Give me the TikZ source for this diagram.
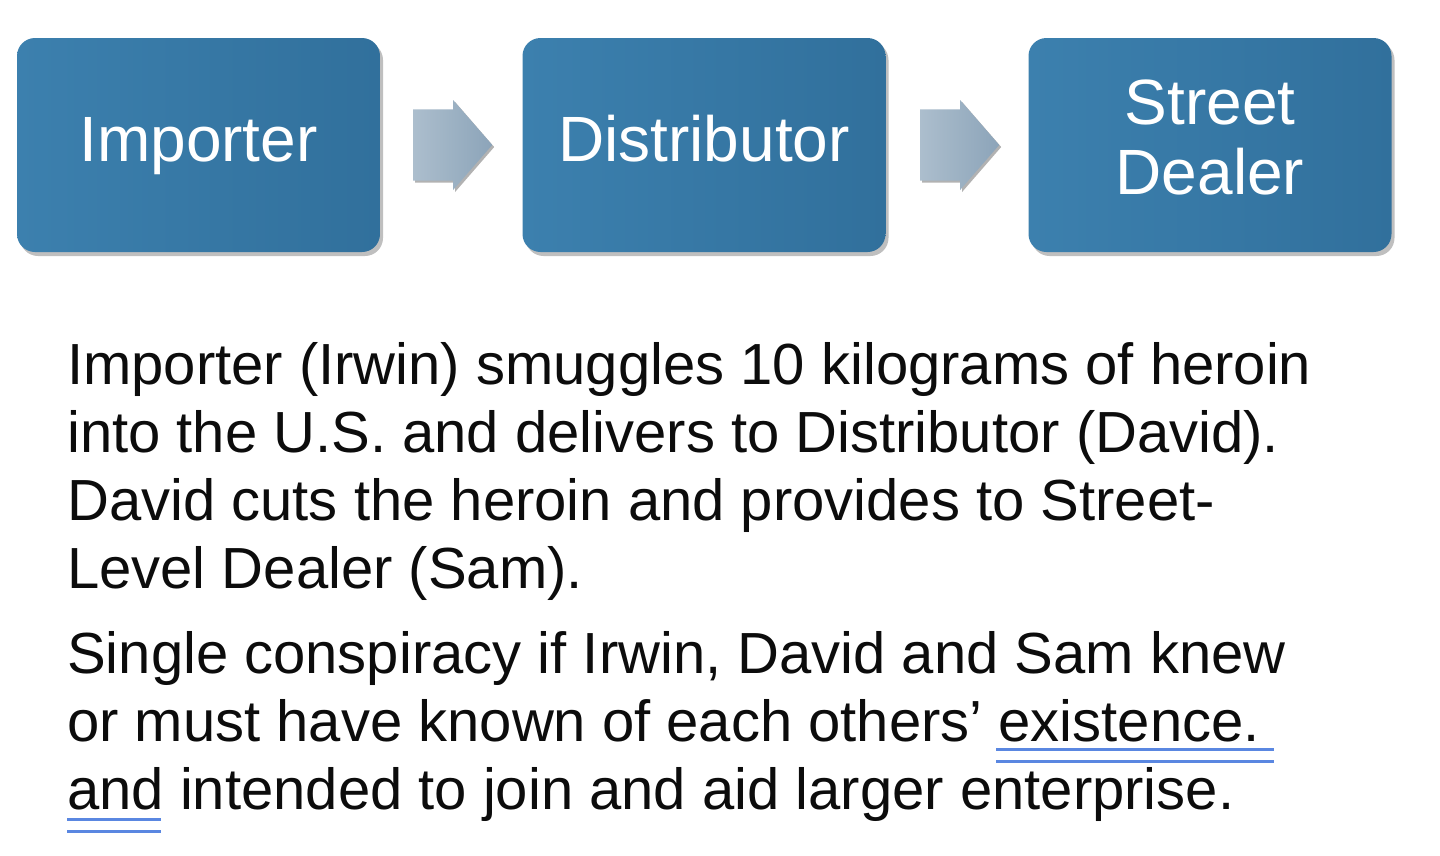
\documentclass[tikz,border=0pt]{standalone}
\usepackage{fontspec}
\setmainfont{Liberation Sans}
\usetikzlibrary{shapes.arrows,shadows}
\definecolor{boxA}{RGB}{60,128,174}
\definecolor{boxB}{RGB}{49,112,156}
\definecolor{arrA}{RGB}{172,190,205}
\definecolor{arrB}{RGB}{140,164,185}
\definecolor{uline}{RGB}{90,135,225}
\definecolor{bodytext}{RGB}{12,12,12}
\begin{document}
\begin{tikzpicture}[x=1pt,y=-1pt,
  softshadow/.style={drop shadow={shadow xshift=3pt, shadow yshift=-4pt, opacity=0.25, fill=black}},
  stagebox/.style={rounded corners=18pt, minimum width=363pt, minimum height=214pt,
    left color=boxA, right color=boxB, draw=none, text=white,
    font=\fontsize{64}{70}\selectfont, align=center, inner sep=0pt, softshadow},
  flowarrow/.style={single arrow, minimum height=79pt, minimum width=90pt,
    inner xsep=0pt, inner ysep=27pt, single arrow tip angle=98,
    single arrow head indent=0pt, left color=arrA, right color=arrB, draw=none,
    anchor=tail,
    drop shadow={shadow xshift=2pt, shadow yshift=-2pt, opacity=0.3, fill=black}},
  bodyline/.style={anchor=base west, inner sep=0pt, text=bodytext,
    font=\fontsize{58}{68}\selectfont},
  uliner/.style={draw=uline, line width=3pt}
]
\useasboundingbox (0,0) rectangle (1440,855);
\fill[white] (0,0) rectangle (1440,855);

\node[stagebox, text height=46pt, text depth=13pt] (imp) at (198.5,145) {Importer};
\node[stagebox, text height=46pt, text depth=13pt] (dis) at (704,145) {Distributor};
\node[stagebox] (sd) at (1210,145) {\raisebox{4pt}{\begin{tabular}{@{}c@{}}Street\\Dealer\end{tabular}}};

\node[flowarrow] (a1) at (413,145) {};
\node[flowarrow] (a2) at (920,145) {};

\node[bodyline] (l1) at (67,384) {Importer (Irwin) smuggles 10 kilograms of heroin};
\node[bodyline] (l2) at (67,452) {into the U.S. and delivers to Distributor (David).};
\node[bodyline] (l3) at (67,520) {David cuts the heroin and provides to Street-};
\node[bodyline] (l4) at (67,588) {Level Dealer (Sam).};
\node[bodyline] (l5) at (67,673) {Single conspiracy if Irwin, David and Sam knew};
\node[bodyline] (l6) at (67,741) {or must have known of each others’ existence.};
\node[bodyline] (l7) at (67,809) {and intended to join and aid larger enterprise.};

\draw[uliner] (996,749) -- (1274,749);
\draw[uliner] (996,761) -- (1274,761);
\draw[uliner] (67,819) -- (161,819);
\draw[uliner] (67,831) -- (161,831);
\end{tikzpicture}
\end{document}
